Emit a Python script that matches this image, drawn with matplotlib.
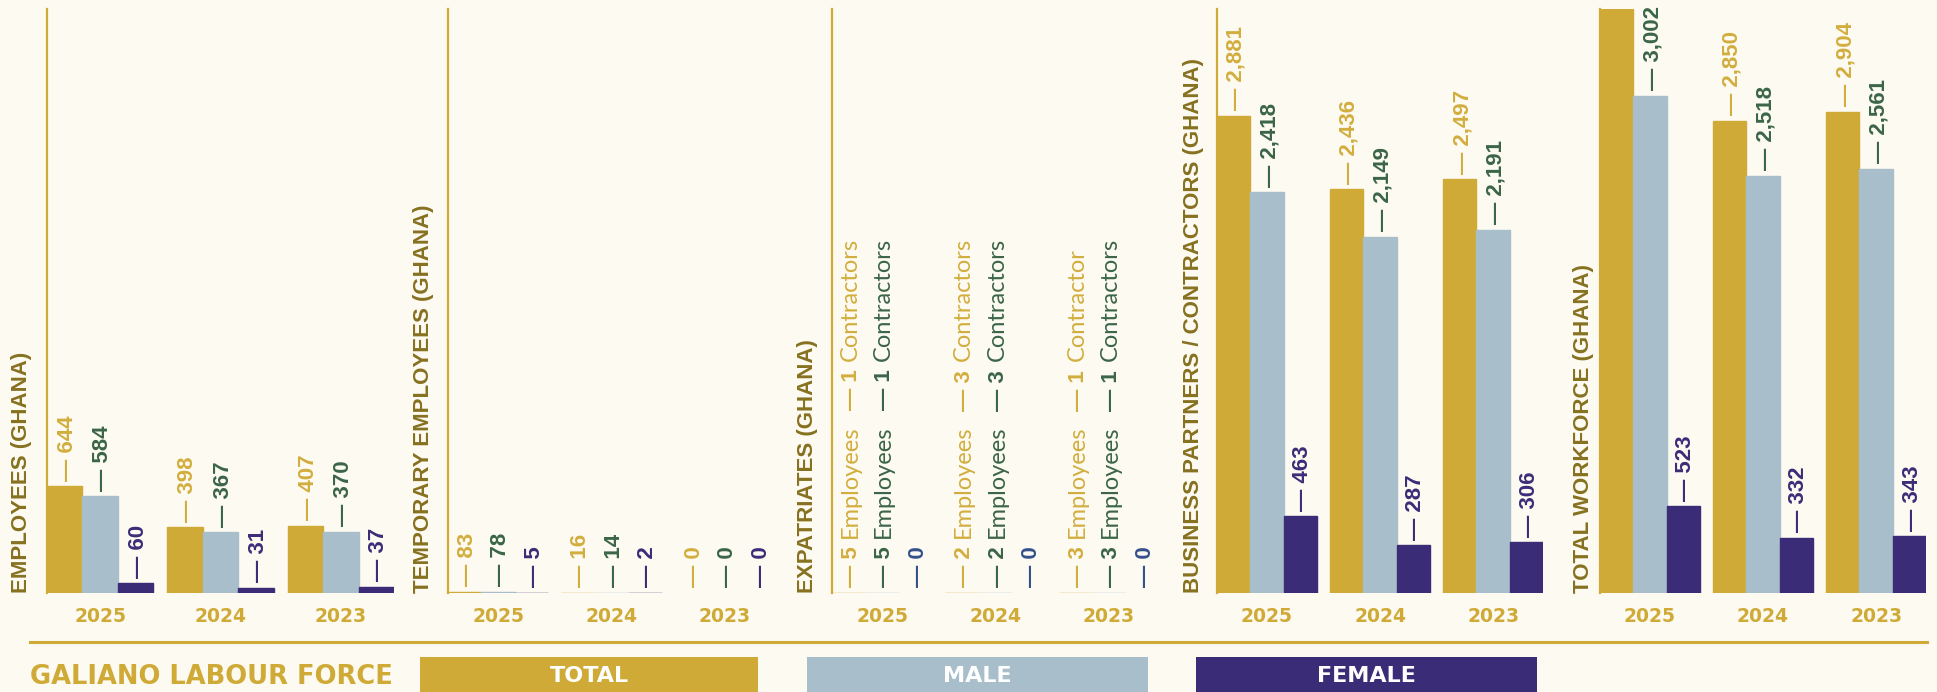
import matplotlib
matplotlib.use('Agg')
import matplotlib.pyplot as plt
from matplotlib.patches import Rectangle
from matplotlib.lines import Line2D

years = ['2025', '2024', '2023']
panel_titles = ['EMPLOYEES (GHANA)', 'TEMPORARY EMPLOYEES (GHANA)', 'EXPATRIATES (GHANA)',
                'BUSINESS PARTNERS / CONTRACTORS (GHANA)', 'TOTAL WORKFORCE (GHANA)']
series_names = ['TOTAL', 'MALE', 'FEMALE']

employees_total = [644, 398, 407]
employees_male = [584, 367, 370]
employees_female = [60, 31, 37]

temporary_total = [83, 16, 0]
temporary_male = [78, 14, 0]
temporary_female = [5, 2, 0]

# expatriates are split into employees + contractors
expat_employees_total = [5, 2, 3]
expat_contractors_total = [1, 3, 1]
expat_employees_male = [5, 2, 3]
expat_contractors_male = [1, 3, 1]
expat_female = [0, 0, 0]
contractor_words_total = ['Contractors', 'Contractors', 'Contractor']
contractor_words_male = ['Contractors', 'Contractors', 'Contractors']

partners_total = [2881, 2436, 2497]
partners_male = [2418, 2149, 2191]
partners_female = [463, 287, 306]

workforce_total = [3525, 2850, 2904]
workforce_male = [3002, 2518, 2561]
workforce_female = [523, 332, 343]

BG = '#FDFAF2'
GOLD = '#CFAA37'
BLUE = '#A9BECB'
PURPLE = '#3A2C77'
TITLE = '#86711F'
bar_colors = [GOLD, BLUE, PURPLE]
label_colors = ['#D2AE3E', '#3B6547', '#3A2C77']
EXPAT_FEMALE = '#34508A'

NUM_FONT = dict(family='Liberation Sans', fontweight='bold', fontsize=16)
WORD_FONT = dict(family=['Lato', 'DejaVu Sans'], fontweight='normal', fontsize=17)

W, H = 1937, 692
fig = plt.figure(figsize=(W / 100, H / 100), dpi=100, facecolor=BG)

lefts_px = [47, 448, 832, 1217, 1600]
widths_px = [347, 327, 327, 326, 326]
title_x_px = [22, 424, 807, 1193, 1583]
top_px, base_px = 9, 593
ymax = [3525, 40000, 40000, 3525, 3525]
gap = 3.4
centers = [i * gap for i in range(len(years))]


def stacked_label(ax, x, y, parts, color):
    # parts: (text, font, space before in points); chained bottom-to-top
    prev = None
    for text, font, space in parts:
        kw = dict(textcoords='offset points', rotation=90, rotation_mode='anchor',
                  ha='left', va='baseline', color=color, annotation_clip=False, **font)
        if prev is None:
            prev = ax.annotate(text, xy=(x, y), xycoords='data', xytext=(5.9, 4), **kw)
        else:
            prev = ax.annotate(text, xy=(x, 1), xycoords=('data', prev), xytext=(5.9, space), **kw)


panel_values = [
    [employees_total, employees_male, employees_female],
    [temporary_total, temporary_male, temporary_female],
    [[a + b for a, b in zip(expat_employees_total, expat_contractors_total)],
     [a + b for a, b in zip(expat_employees_male, expat_contractors_male)],
     expat_female],
    [partners_total, partners_male, partners_female],
    [workforce_total, workforce_male, workforce_female],
]

for p, values in enumerate(panel_values):
    ax = fig.add_axes([lefts_px[p] / W, 1 - base_px / H, widths_px[p] / W, (base_px - top_px) / H])
    ax.set_facecolor('none')
    for s, vals in enumerate(values):
        xs = [c + s - 1 for c in centers]
        ax.bar(xs, vals, width=1.0, color=bar_colors[s], edgecolor=bar_colors[s],
               linewidth=[1.0 if v > 0 else 0 for v in vals])
        for i, (x, v) in enumerate(zip(xs, vals)):
            if v >= ymax[p]:
                continue  # bar reaches the top edge, its label falls off the page
            if p == 2 and s < 2:
                emp = [expat_employees_total, expat_employees_male][s][i]
                con = [expat_contractors_total, expat_contractors_male][s][i]
                word = [contractor_words_total, contractor_words_male][s][i]
                parts = [(f'\u2014 {emp}', NUM_FONT, 0), ('Employees', WORD_FONT, 6),
                         (f'\u2014 {con}', NUM_FONT, 11), (word, WORD_FONT, 6)]
                stacked_label(ax, x, v, parts, label_colors[s])
            else:
                col = EXPAT_FEMALE if p == 2 else label_colors[s]
                stacked_label(ax, x, v, [(f'\u2014 {v:,}', NUM_FONT, 0)], col)
    ax.set_xlim(-1.5, centers[-1] + 1.5)
    ax.set_ylim(0, ymax[p])
    for side in ['top', 'right', 'bottom']:
        ax.spines[side].set_visible(False)
    ax.spines['left'].set_color(GOLD)
    ax.spines['left'].set_linewidth(1.6)
    ax.set_yticks([])
    ax.set_xticks(centers, years)
    ax.tick_params(axis='x', length=0, pad=10, colors=GOLD)
    for lab in ax.get_xticklabels():
        lab.set_fontweight('bold')
        lab.set_fontsize(13.5)
        lab.set_family('DejaVu Sans')
    fig.text(title_x_px[p] / W, 1 - base_px / H, panel_titles[p], rotation=90,
             ha='center', va='bottom', color=TITLE, fontsize=16, fontweight='bold',
             family='Liberation Sans')

# bottom rule and legend
fig.add_artist(Line2D([30 / W, 1927 / W], [1 - 642 / H] * 2, transform=fig.transFigure,
                      color=GOLD, lw=2.2))
fig.text(30 / W, 1 - 677 / H, 'GALIANO LABOUR FORCE', ha='left', va='center',
         color=GOLD, fontsize=18.5, fontweight='bold', family='DejaVu Sans')

box_px = [(420, 758), (807, 1148), (1196, 1537)]
for name, color, (x0, x1) in zip(series_names, bar_colors, box_px):
    fig.add_artist(Rectangle((x0 / W, 0), (x1 - x0) / W, (H - 657) / H,
                             transform=fig.transFigure, facecolor=color, edgecolor='none'))
    fig.text((x0 + x1) / 2 / W, 1 - 676 / H, name, ha='center', va='center',
             color='white', fontsize=16, fontweight='bold', family='DejaVu Sans')

fig.savefig('out.png', dpi=100, facecolor=BG)
